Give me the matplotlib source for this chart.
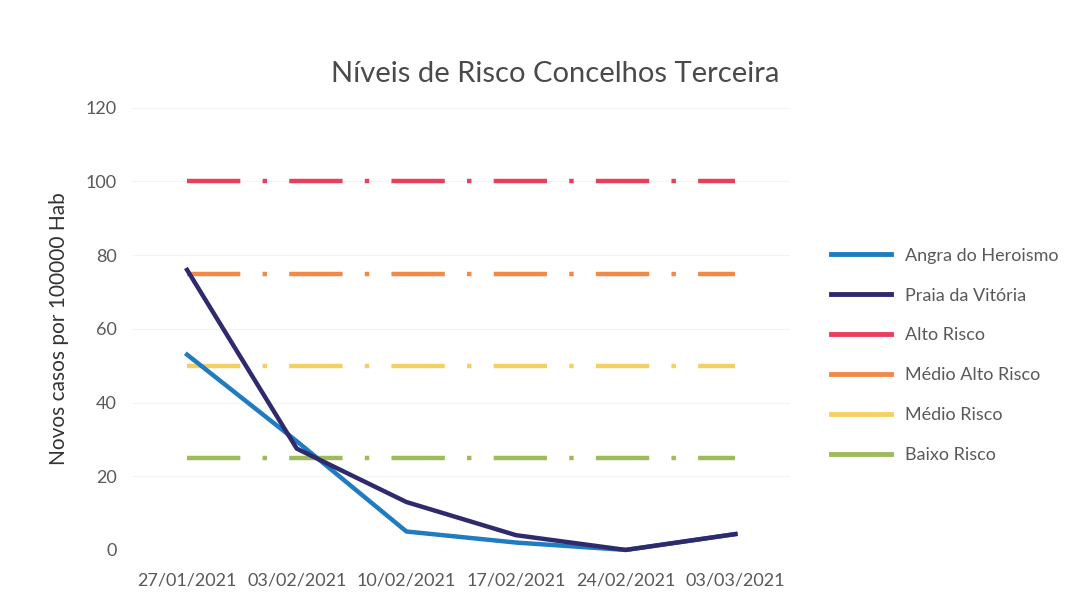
import matplotlib.pyplot as plt
from matplotlib.lines import Line2D

plt.rcParams['font.family'] = ['Lato', 'DejaVu Sans']

dates = ["27/01/2021", "03/02/2021", "10/02/2021", "17/02/2021", "24/02/2021", "03/03/2021"]
angra = [53, 29.5, 5, 2, 0, 4.3]
praia = [76, 27.5, 13, 4, 0, 4.3]

thresholds = [
    ("Alto Risco", 100, "#E8405A"),
    ("Médio Alto Risco", 75, "#F08A4B"),
    ("Médio Risco", 50, "#F6CF62"),
    ("Baixo Risco", 25, "#9DBB5A"),
]

text_col = "#595959"

fig = plt.figure(figsize=(10.84, 6.09), dpi=100)
ax = fig.add_axes([0.122, 0.097, 0.607, 0.726])

x = range(len(dates))
ax.plot(x, angra, color="#1F7CC0", lw=3.2, solid_joinstyle="round", zorder=4, clip_on=False)
ax.plot(x, praia, color="#2F2A6E", lw=3.2, solid_joinstyle="round", zorder=5, clip_on=False)
for name, level, col in thresholds:
    ax.plot(x, [level] * len(dates), color=col, lw=3.2,
            dashes=(12, 5, 1, 5), zorder=3)

ax.set_xlim(-0.5, len(dates) - 0.5)
ax.set_ylim(0, 120)
ax.set_yticks(range(0, 121, 20))
ax.set_xticks(list(x))
ax.set_xticklabels(dates)
ax.tick_params(length=0, labelsize=13, labelcolor=text_col)
ax.tick_params(axis="x", pad=16)
ax.tick_params(axis="y", pad=11)
ax.grid(axis="y", color="#F4F4F4", lw=0.8)
ax.set_axisbelow(True)
for s in ax.spines.values():
    s.set_visible(False)

ax.set_ylabel("Novos casos por 100000 Hab", fontsize=15, color="#333333", labelpad=12)
fig.text(0.512, 0.866, "Níveis de Risco Concelhos Terceira", ha="center",
         fontsize=21, color="#4A4A4A")

handles = [
    Line2D([], [], color="#1F7CC0", lw=3.5),
    Line2D([], [], color="#2F2A6E", lw=3.5),
] + [Line2D([], [], color=col, lw=3.5) for _, _, col in thresholds]
labels = ["Angra do Heroismo", "Praia da Vitória"] + [t[0] for t in thresholds]
leg = fig.legend(handles, labels, loc="upper left", bbox_to_anchor=(0.752, 0.62),
                 frameon=False, fontsize=13, handlelength=3.3, labelspacing=1.32,
                 handletextpad=0.8)
for t in leg.get_texts():
    t.set_color(text_col)

fig.savefig("out.png", dpi=100)
